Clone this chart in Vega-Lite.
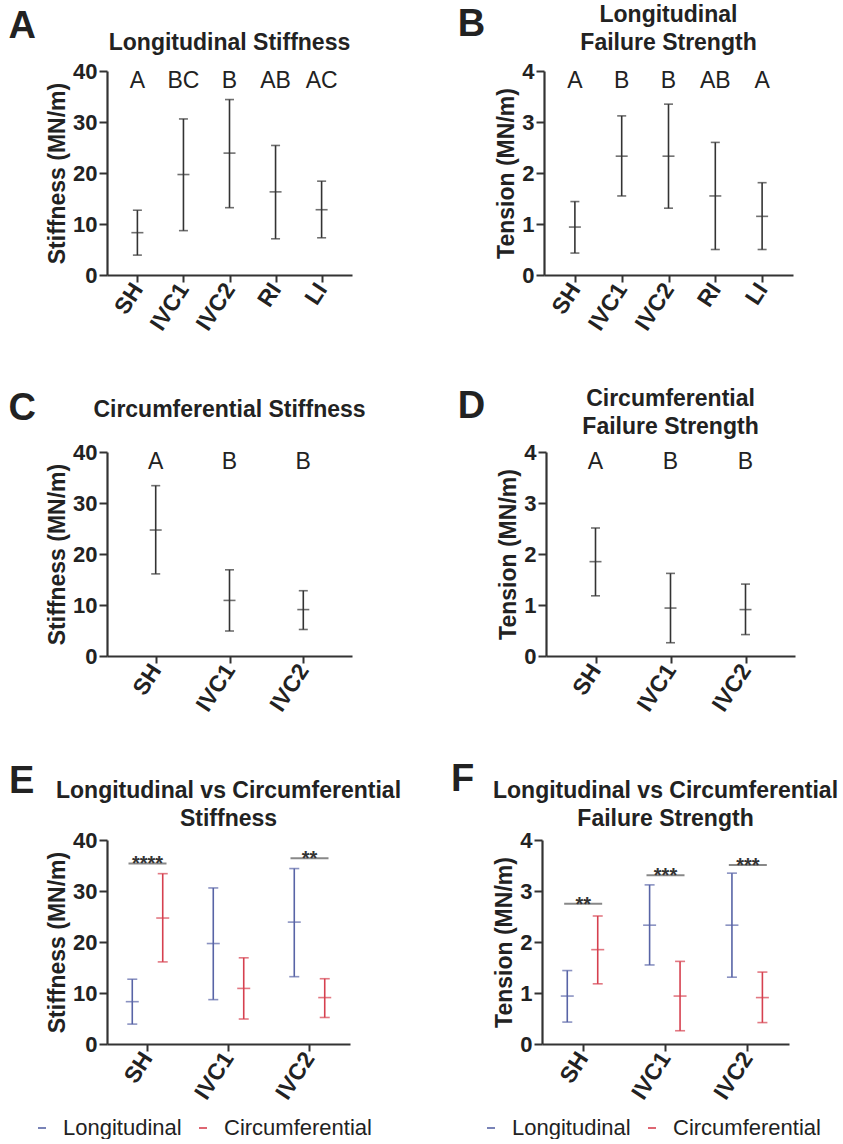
{
  "$schema": "https://vega.github.io/schema/vega-lite/v6.json",
  "padding": {"left": 8, "top": 4, "right": 0, "bottom": 0},
  "datasets": {
    "stats": [
      {"measure": "stiffness", "dir": "Longitudinal", "group": "SH", "mean": 8.3, "lower": 3.9, "upper": 12.7, "letter": "A"},
      {"measure": "stiffness", "dir": "Longitudinal", "group": "IVC1", "mean": 19.7, "lower": 8.7, "upper": 30.6, "letter": "BC"},
      {"measure": "stiffness", "dir": "Longitudinal", "group": "IVC2", "mean": 23.9, "lower": 13.2, "upper": 34.4, "letter": "B"},
      {"measure": "stiffness", "dir": "Longitudinal", "group": "RI", "mean": 16.3, "lower": 7.1, "upper": 25.4, "letter": "AB"},
      {"measure": "stiffness", "dir": "Longitudinal", "group": "LI", "mean": 12.8, "lower": 7.3, "upper": 18.4, "letter": "AC"},
      {"measure": "tension", "dir": "Longitudinal", "group": "SH", "mean": 0.94, "lower": 0.43, "upper": 1.44, "letter": "A"},
      {"measure": "tension", "dir": "Longitudinal", "group": "IVC1", "mean": 2.33, "lower": 1.55, "upper": 3.12, "letter": "B"},
      {"measure": "tension", "dir": "Longitudinal", "group": "IVC2", "mean": 2.33, "lower": 1.31, "upper": 3.35, "letter": "B"},
      {"measure": "tension", "dir": "Longitudinal", "group": "RI", "mean": 1.55, "lower": 0.5, "upper": 2.6, "letter": "AB"},
      {"measure": "tension", "dir": "Longitudinal", "group": "LI", "mean": 1.15, "lower": 0.5, "upper": 1.81, "letter": "A"},
      {"measure": "stiffness", "dir": "Circumferential", "group": "SH", "mean": 24.7, "lower": 16.1, "upper": 33.4, "letter": "A"},
      {"measure": "stiffness", "dir": "Circumferential", "group": "IVC1", "mean": 10.9, "lower": 4.9, "upper": 16.9, "letter": "B"},
      {"measure": "stiffness", "dir": "Circumferential", "group": "IVC2", "mean": 9.1, "lower": 5.2, "upper": 12.8, "letter": "B"},
      {"measure": "tension", "dir": "Circumferential", "group": "SH", "mean": 1.85, "lower": 1.18, "upper": 2.51, "letter": "A"},
      {"measure": "tension", "dir": "Circumferential", "group": "IVC1", "mean": 0.94, "lower": 0.26, "upper": 1.62, "letter": "B"},
      {"measure": "tension", "dir": "Circumferential", "group": "IVC2", "mean": 0.91, "lower": 0.42, "upper": 1.41, "letter": "B"}
    ],
    "sig": [
      {"measure": "stiffness", "group": "SH", "value": 35.4, "stars": "****"},
      {"measure": "stiffness", "group": "IVC2", "value": 36.4, "stars": "**"},
      {"measure": "tension", "group": "SH", "value": 2.75, "stars": "**"},
      {"measure": "tension", "group": "IVC1", "value": 3.31, "stars": "***"},
      {"measure": "tension", "group": "IVC2", "value": 3.51, "stars": "***"}
    ]
  },
  "resolve": {"scale": {"x": "independent", "y": "independent", "color": "independent"}, "legend": {"color": "independent"}},
  "spacing": 36,
  "vconcat": [
    {
      "spacing": 105,
      "resolve": {"scale": {"x": "independent", "y": "independent", "color": "independent"}, "legend": {"color": "independent"}},
      "hconcat": [
        {
          "title": {"text": "A", "fontSize": 38, "anchor": "start", "frame": "bounds", "dx": -38, "offset": -42},
          "vconcat": [
            {
              "width": 245, "height": 204,
              "title": {"text": ["", "Longitudinal Stiffness"], "offset": 5},
              "data": {"name": "stats"},
              "transform": [{"filter": "datum.measure == 'stiffness' && datum.dir == 'Longitudinal'"}],
              "encoding": {
                "x": {"field": "group", "type": "nominal", "sort": ["SH", "IVC1", "IVC2", "RI", "LI"], "scale": {"type": "point", "padding": 0.66}, "title": null}
              },
              "layer": [
                {"mark": {"type": "rule", "color": "#333333"}, "encoding": {"y": {"field": "lower", "type": "quantitative", "scale": {"domain": [0, 40]}, "title": "Stiffness (MN/m)"}, "y2": {"field": "upper"}}},
                {"mark": {"type": "tick", "color": "#333333", "size": 9}, "encoding": {"y": {"field": "lower", "type": "quantitative", "title": "Stiffness (MN/m)"}}},
                {"mark": {"type": "tick", "color": "#333333", "size": 9}, "encoding": {"y": {"field": "upper", "type": "quantitative", "title": "Stiffness (MN/m)"}}},
                {"mark": {"type": "tick", "color": "#333333", "size": 12}, "encoding": {"y": {"field": "mean", "type": "quantitative", "title": "Stiffness (MN/m)"}}},
                {"mark": {"type": "text", "fontSize": 23, "baseline": "middle", "color": "#222222"}, "encoding": {"y": {"datum": 38}, "text": {"field": "letter"}}}
              ]
            }
          ]
        },
        {
          "title": {"text": "B", "fontSize": 38, "anchor": "start", "frame": "bounds", "dx": -38, "offset": -40},
          "vconcat": [
            {
              "width": 249, "height": 204,
              "title": {"text": ["Longitudinal", "Failure Strength"], "offset": 5},
              "data": {"name": "stats"},
              "transform": [{"filter": "datum.measure == 'tension' && datum.dir == 'Longitudinal'"}],
              "encoding": {
                "x": {"field": "group", "type": "nominal", "sort": ["SH", "IVC1", "IVC2", "RI", "LI"], "scale": {"type": "point", "padding": 0.66}, "title": null}
              },
              "layer": [
                {"mark": {"type": "rule", "color": "#333333"}, "encoding": {"y": {"field": "lower", "type": "quantitative", "scale": {"domain": [0, 4]}, "title": "Tension (MN/m)"}, "y2": {"field": "upper"}}},
                {"mark": {"type": "tick", "color": "#333333", "size": 9}, "encoding": {"y": {"field": "lower", "type": "quantitative", "title": "Tension (MN/m)"}}},
                {"mark": {"type": "tick", "color": "#333333", "size": 9}, "encoding": {"y": {"field": "upper", "type": "quantitative", "title": "Tension (MN/m)"}}},
                {"mark": {"type": "tick", "color": "#333333", "size": 12}, "encoding": {"y": {"field": "mean", "type": "quantitative", "title": "Tension (MN/m)"}}},
                {"mark": {"type": "text", "fontSize": 23, "baseline": "middle", "color": "#222222"}, "encoding": {"y": {"datum": 3.8}, "text": {"field": "letter"}}}
              ]
            }
          ]
        }
      ]
    },
    {
      "spacing": 45,
      "resolve": {"scale": {"x": "independent", "y": "independent", "color": "independent"}, "legend": {"color": "independent"}},
      "vconcat": [
        {
          "spacing": 91,
          "resolve": {"scale": {"x": "independent", "y": "independent", "color": "independent"}, "legend": {"color": "independent"}},
          "hconcat": [
            {
              "title": {"text": "C", "fontSize": 38, "anchor": "start", "frame": "bounds", "dx": -38, "offset": -57},
              "vconcat": [
                {
                  "width": 245, "height": 204,
                  "title": {"text": ["", "Circumferential Stiffness"], "dy": -13},
                  "data": {"name": "stats"},
                  "transform": [{"filter": "datum.measure == 'stiffness' && datum.dir == 'Circumferential'"}],
                  "encoding": {
                    "x": {"field": "group", "type": "nominal", "sort": ["SH", "IVC1", "IVC2"], "scale": {"type": "point", "padding": 0.66}, "title": null}
                  },
                  "layer": [
                    {"mark": {"type": "rule", "color": "#333333"}, "encoding": {"y": {"field": "lower", "type": "quantitative", "scale": {"domain": [0, 40]}, "title": "Stiffness (MN/m)"}, "y2": {"field": "upper"}}},
                    {"mark": {"type": "tick", "color": "#333333", "size": 9}, "encoding": {"y": {"field": "lower", "type": "quantitative", "title": "Stiffness (MN/m)"}}},
                    {"mark": {"type": "tick", "color": "#333333", "size": 9}, "encoding": {"y": {"field": "upper", "type": "quantitative", "title": "Stiffness (MN/m)"}}},
                    {"mark": {"type": "tick", "color": "#333333", "size": 12}, "encoding": {"y": {"field": "mean", "type": "quantitative", "title": "Stiffness (MN/m)"}}},
                    {"mark": {"type": "text", "fontSize": 23, "baseline": "middle", "color": "#222222"}, "encoding": {"y": {"datum": 38}, "text": {"field": "letter"}}}
                  ]
                }
              ]
            },
            {
              "title": {"text": "D", "fontSize": 38, "anchor": "start", "frame": "bounds", "dx": -40, "offset": -38},
              "vconcat": [
                {
                  "width": 249, "height": 204,
                  "title": {"text": ["Circumferential", "Failure Strength"], "offset": 2},
                  "data": {"name": "stats"},
                  "transform": [{"filter": "datum.measure == 'tension' && datum.dir == 'Circumferential'"}],
                  "encoding": {
                    "x": {"field": "group", "type": "nominal", "sort": ["SH", "IVC1", "IVC2"], "scale": {"type": "point", "padding": 0.66}, "title": null}
                  },
                  "layer": [
                    {"mark": {"type": "rule", "color": "#333333"}, "encoding": {"y": {"field": "lower", "type": "quantitative", "scale": {"domain": [0, 4]}, "title": "Tension (MN/m)"}, "y2": {"field": "upper"}}},
                    {"mark": {"type": "tick", "color": "#333333", "size": 9}, "encoding": {"y": {"field": "lower", "type": "quantitative", "title": "Tension (MN/m)"}}},
                    {"mark": {"type": "tick", "color": "#333333", "size": 9}, "encoding": {"y": {"field": "upper", "type": "quantitative", "title": "Tension (MN/m)"}}},
                    {"mark": {"type": "tick", "color": "#333333", "size": 12}, "encoding": {"y": {"field": "mean", "type": "quantitative", "title": "Tension (MN/m)"}}},
                    {"mark": {"type": "text", "fontSize": 23, "baseline": "middle", "color": "#222222"}, "encoding": {"y": {"datum": 3.8}, "text": {"field": "letter"}}}
                  ]
                }
              ]
            }
          ]
        },
        {
          "spacing": 49,
          "resolve": {"scale": {"x": "independent", "y": "independent", "color": "independent"}, "legend": {"color": "independent"}},
          "hconcat": [
            {
              "title": {"text": "E", "fontSize": 38, "anchor": "start", "frame": "bounds", "dx": -22, "offset": -21},
              "vconcat": [
                {
                  "width": 243, "height": 204,
                  "title": {"text": ["Longitudinal vs Circumferential", "Stiffness"], "offset": -2},
                  "data": {"name": "stats"},
                  "transform": [{"filter": "datum.measure == 'stiffness'"}, {"filter": "datum.group != 'RI' && datum.group != 'LI'"}],
                  "encoding": {
                    "x": {"field": "group", "type": "nominal", "sort": ["SH", "IVC1", "IVC2"], "scale": {"type": "band", "paddingInner": 0, "paddingOuter": -0.06}, "title": null}
                  },
                  "layer": [
                    {"mark": {"type": "rule"}, "encoding": {
                      "y": {"field": "lower", "type": "quantitative", "scale": {"domain": [0, 40]}, "title": "Stiffness (MN/m)"}, "y2": {"field": "upper"},
                      "xOffset": {"field": "dir", "type": "nominal", "sort": ["Longitudinal", "Circumferential"], "scale": {"paddingInner": 0, "paddingOuter": 0.33}},
                      "color": {"field": "dir", "type": "nominal", "sort": ["Longitudinal", "Circumferential"], "scale": {"domain": ["Longitudinal", "Circumferential"], "range": ["#5864a6", "#d6404f"]}, "legend": {"title": null, "orient": "none", "legendX": -76, "legendY": 277}}}},
                    {"mark": {"type": "tick", "size": 10}, "encoding": {
                      "y": {"field": "lower", "type": "quantitative", "title": "Stiffness (MN/m)"},
                      "xOffset": {"field": "dir", "type": "nominal", "sort": ["Longitudinal", "Circumferential"]},
                      "color": {"field": "dir", "type": "nominal", "sort": ["Longitudinal", "Circumferential"]}}},
                    {"mark": {"type": "tick", "size": 10}, "encoding": {
                      "y": {"field": "upper", "type": "quantitative", "title": "Stiffness (MN/m)"},
                      "xOffset": {"field": "dir", "type": "nominal", "sort": ["Longitudinal", "Circumferential"]},
                      "color": {"field": "dir", "type": "nominal", "sort": ["Longitudinal", "Circumferential"]}}},
                    {"mark": {"type": "tick", "size": 13}, "encoding": {
                      "y": {"field": "mean", "type": "quantitative", "title": "Stiffness (MN/m)"},
                      "xOffset": {"field": "dir", "type": "nominal", "sort": ["Longitudinal", "Circumferential"]},
                      "color": {"field": "dir", "type": "nominal", "sort": ["Longitudinal", "Circumferential"]}}},
                    {"data": {"name": "sig"}, "transform": [{"filter": "datum.measure == 'stiffness'"}],
                      "mark": {"type": "tick", "size": 38, "thickness": 2, "color": "#555555"},
                      "encoding": {"y": {"field": "value", "type": "quantitative", "title": "Stiffness (MN/m)"}}},
                    {"data": {"name": "sig"}, "transform": [{"filter": "datum.measure == 'stiffness'"}],
                      "mark": {"type": "text", "fontSize": 20, "fontWeight": "bold", "baseline": "alphabetic", "dy": 7, "color": "#333333"},
                      "encoding": {"y": {"field": "value", "type": "quantitative", "title": "Stiffness (MN/m)"}, "text": {"field": "stars"}}}
                  ]
                }
              ]
            },
            {
              "title": {"text": "F", "fontSize": 38, "anchor": "start", "frame": "bounds", "dx": -29, "offset": -19},
              "vconcat": [
                {
                  "width": 247, "height": 204,
                  "title": {"text": ["Longitudinal vs Circumferential", "Failure Strength"], "offset": -2},
                  "data": {"name": "stats"},
                  "transform": [{"filter": "datum.measure == 'tension'"}, {"filter": "datum.group != 'RI' && datum.group != 'LI'"}],
                  "encoding": {
                    "x": {"field": "group", "type": "nominal", "sort": ["SH", "IVC1", "IVC2"], "scale": {"type": "band", "paddingInner": 0, "paddingOuter": -0.06}, "title": null}
                  },
                  "layer": [
                    {"mark": {"type": "rule"}, "encoding": {
                      "y": {"field": "lower", "type": "quantitative", "scale": {"domain": [0, 4]}, "title": "Tension (MN/m)"}, "y2": {"field": "upper"},
                      "xOffset": {"field": "dir", "type": "nominal", "sort": ["Longitudinal", "Circumferential"], "scale": {"paddingInner": 0, "paddingOuter": 0.33}},
                      "color": {"field": "dir", "type": "nominal", "sort": ["Longitudinal", "Circumferential"], "scale": {"domain": ["Longitudinal", "Circumferential"], "range": ["#5864a6", "#d6404f"]}, "legend": {"title": null, "orient": "none", "legendX": -62, "legendY": 277}}}},
                    {"mark": {"type": "tick", "size": 10}, "encoding": {
                      "y": {"field": "lower", "type": "quantitative", "title": "Tension (MN/m)"},
                      "xOffset": {"field": "dir", "type": "nominal", "sort": ["Longitudinal", "Circumferential"]},
                      "color": {"field": "dir", "type": "nominal", "sort": ["Longitudinal", "Circumferential"]}}},
                    {"mark": {"type": "tick", "size": 10}, "encoding": {
                      "y": {"field": "upper", "type": "quantitative", "title": "Tension (MN/m)"},
                      "xOffset": {"field": "dir", "type": "nominal", "sort": ["Longitudinal", "Circumferential"]},
                      "color": {"field": "dir", "type": "nominal", "sort": ["Longitudinal", "Circumferential"]}}},
                    {"mark": {"type": "tick", "size": 13}, "encoding": {
                      "y": {"field": "mean", "type": "quantitative", "title": "Tension (MN/m)"},
                      "xOffset": {"field": "dir", "type": "nominal", "sort": ["Longitudinal", "Circumferential"]},
                      "color": {"field": "dir", "type": "nominal", "sort": ["Longitudinal", "Circumferential"]}}},
                    {"data": {"name": "sig"}, "transform": [{"filter": "datum.measure == 'tension'"}],
                      "mark": {"type": "tick", "size": 38, "thickness": 2, "color": "#555555"},
                      "encoding": {"y": {"field": "value", "type": "quantitative", "title": "Tension (MN/m)"}}},
                    {"data": {"name": "sig"}, "transform": [{"filter": "datum.measure == 'tension'"}],
                      "mark": {"type": "text", "fontSize": 20, "fontWeight": "bold", "baseline": "alphabetic", "dy": 7, "color": "#333333"},
                      "encoding": {"y": {"field": "value", "type": "quantitative", "title": "Tension (MN/m)"}, "text": {"field": "stars"}}}
                  ]
                }
              ]
            }
          ]
        }
      ]
    }
  ],
  "config": {
    "font": "Liberation Sans",
    "view": {"stroke": null},
    "axis": {"grid": false, "domainColor": "#333333", "domainWidth": 2.2, "tickColor": "#333333", "tickWidth": 2, "tickSize": 8, "labelFontSize": 22, "labelFontWeight": "bold", "labelColor": "#222222", "titleFontSize": 23, "titleFontWeight": "bold", "titleColor": "#222222", "labelPadding": 2, "titlePadding": 3},
    "axisX": {"labelAngle": -57, "labelFontSize": 23, "tickSize": 7, "labelPadding": 3},
    "axisY": {"tickCount": 4},
    "title": {"fontSize": 23, "fontWeight": "bold", "color": "#222222", "frame": "group", "anchor": "middle", "lineHeight": 28, "offset": 6},
    "legend": {"direction": "horizontal", "symbolType": "stroke", "symbolSize": 64, "symbolStrokeWidth": 2, "labelFontSize": 22, "labelColor": "#222222", "labelOffset": 10, "columnPadding": 10},
    "tick": {"thickness": 1.6},
    "rule": {"strokeWidth": 1.6}
  }
}
